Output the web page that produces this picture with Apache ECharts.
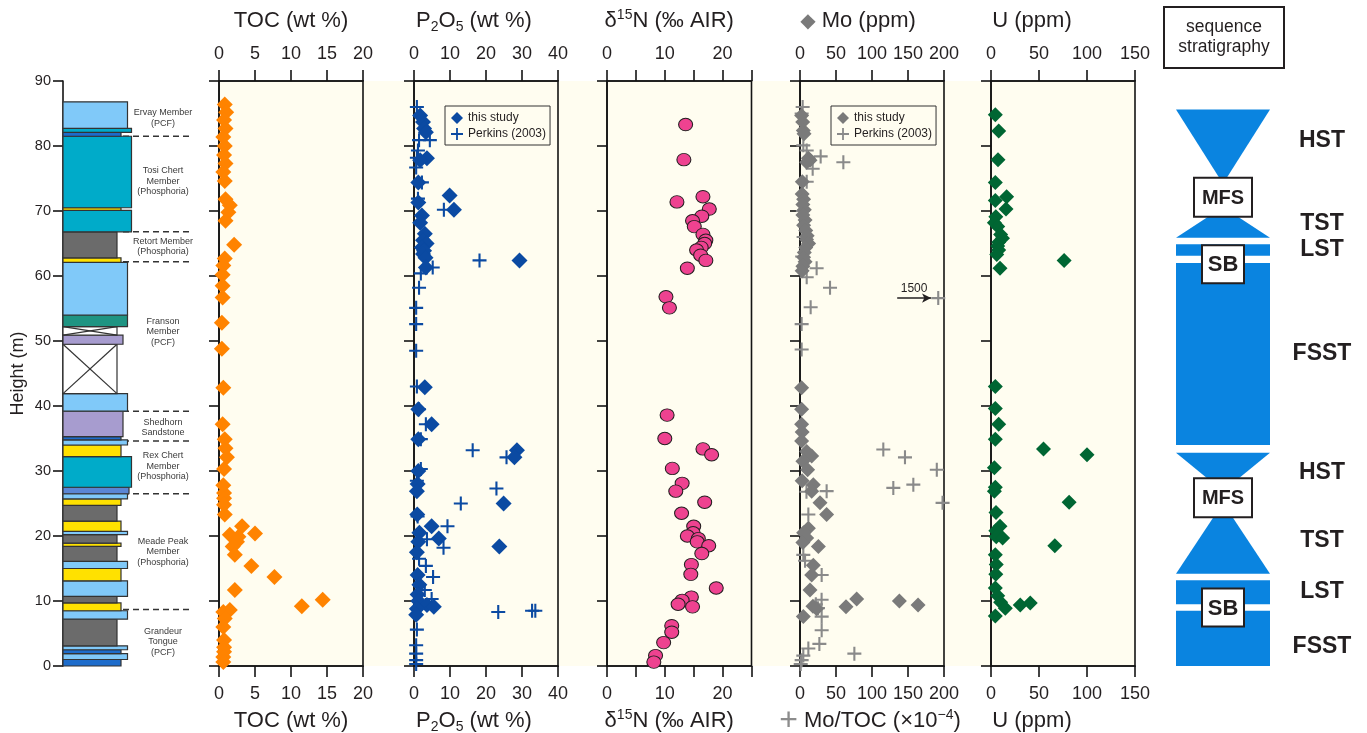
<!DOCTYPE html>
<html><head><meta charset="utf-8">
<script src="https://cdn.jsdelivr.net/npm/echarts@6/dist/echarts.min.js"></script>
<style>html,body{margin:0;padding:0;background:#fff}#c{width:1367px;height:733px}</style>
</head><body><div id="c"></div>
<script>
// ---------------- DATA ----------------
// lithology layers: [bottom (m), top (m), lithology]
const lithLayers = [
  [0.0, 1.0, 'dkblue'], [1.0, 1.9, 'ltblue'], [1.9, 2.5, 'dkblue'], [2.5, 3.1, 'ltblue'],
  [3.1, 7.2, 'mud'], [7.2, 8.5, 'ltblue'], [8.5, 9.7, 'phos'], [9.7, 10.7, 'mud'],
  [10.7, 13.1, 'ltblue'], [13.1, 15.0, 'phos'], [15.0, 16.1, 'ltblue'], [16.1, 18.4, 'mud'],
  [18.4, 18.9, 'phos'], [18.9, 20.2, 'mud'], [20.2, 20.7, 'ltblue'], [20.7, 22.3, 'phos'],
  [22.3, 24.7, 'mud'], [24.7, 25.7, 'phos'], [25.7, 26.5, 'ltblue'], [26.5, 27.5, 'mdblue'],
  [27.5, 32.2, 'chert'], [32.2, 34.0, 'phos'], [34.0, 34.8, 'ltblue'], [34.8, 35.3, 'dkblue'],
  [35.3, 39.2, 'sand'], [39.2, 41.9, 'ltblue'], [41.9, 49.5, 'covered'], [49.5, 50.9, 'sand'],
  [50.9, 52.2, 'covered'], [52.2, 54.0, 'teal'], [54.0, 62.1, 'ltblue'], [62.1, 62.8, 'phos'],
  [62.8, 66.8, 'mud'], [66.8, 70.1, 'chert'], [70.1, 70.5, 'phos'], [70.5, 81.5, 'chert'],
  [81.5, 82.1, 'dkblue'], [82.1, 82.7, 'chert'], [82.7, 86.8, 'ltblue']
];
const memberBoundaries = [8.7, 26.5, 34.6, 39.2, 62.2, 66.8, 81.5];
const members = [
  ['Ervay Member\n(PCF)', 84.3],
  ['Tosi Chert\nMember\n(Phosphoria)', 74.6],
  ['Retort Member\n(Phosphoria)', 64.5],
  ['Franson\nMember\n(PCF)', 51.4],
  ['Shedhorn\nSandstone', 36.7],
  ['Rex Chert\nMember\n(Phosphoria)', 30.7],
  ['Meade Peak\nMember\n(Phosphoria)', 17.6],
  ['Grandeur\nTongue\n(PCF)', 3.7]
];

// [value, height]
const tocData = [
  [0.8,86.4],[1.0,85.2],[0.7,84.0],[0.9,82.7],[0.6,81.4],[0.8,80.0],[0.7,78.6],[0.9,77.3],[0.6,76.0],
  [0.8,74.6],[0.9,71.8],[1.5,70.9],[1.3,69.8],[0.9,68.5],[2.1,64.8],[0.8,62.7],[0.6,61.6],[0.5,60.2],
  [0.5,58.5],[0.5,56.7],[0.4,52.8],[0.4,48.8],
  [0.6,42.8],[0.5,37.2],[0.8,34.9],[0.9,33.5],[1.1,32.1],[0.7,30.3],[0.6,27.8],[0.7,26.6],[0.7,25.8],
  [0.7,24.8],[0.8,23.3],[3.2,21.5],[5.0,20.4],[1.5,20.2],[2.7,19.9],[2.5,19.1],[1.9,18.4],[2.2,17.1],
  [4.5,15.4],[7.7,13.7],[2.2,11.7],[11.5,9.2],[14.4,10.2],[1.5,8.6],[0.6,8.3],[0.8,7.3],[0.6,6.0],
  [0.7,4.0],[0.7,2.9],[0.7,2.2],[0.6,1.4],[0.6,0.6]
];
const p2o5Study = [
  [1.7,84.7],[2.5,83.7],[2.8,82.7],[3.3,82.1],[3.6,78.1],[1.7,77.8],[1.2,74.4],[9.9,72.4],[11.1,70.2],
  [1.2,71.3],[2.2,69.3],[1.7,68.2],[3.0,66.5],[2.5,65.5],[3.5,65.0],[2.2,64.4],[2.8,63.9],[2.5,63.4],
  [3.2,62.8],[3.3,61.3],[29.3,62.4],
  [3.0,42.9],[1.2,39.5],[4.9,37.2],[1.2,34.9],[28.6,33.2],[27.9,32.1],[1.2,30.0],[1.0,28.0],[0.8,26.9],
  [24.9,25.0],[0.9,23.3],[4.9,21.5],[1.5,20.5],[6.9,19.6],[1.2,19.1],[23.7,18.4],[0.8,17.5],[1.0,14.0],
  [1.5,12.5],[1.0,11.0],[1.2,10.0],[3.6,9.4],[5.5,9.1],[0.8,8.8],[0.6,7.9]
];
const p2o5Perkins = [
  [0.8,86.0],[4.4,80.9],[1.4,80.9],[1.1,79.3],[0.8,78.2],[0.6,76.7],[2.2,74.4],[1.1,71.9],[8.3,70.2],
  [18.2,62.4],[5.2,61.3],[1.9,60.4],[1.4,58.2],[0.6,55.1],[0.6,52.6],[0.6,48.5],
  [0.8,43.0],[1.4,39.5],[3.3,37.2],[1.9,34.9],[16.3,33.2],[25.7,32.1],[1.9,30.3],[0.8,28.5],[22.9,27.3],
  [13.0,25.0],[1.0,23.0],[9.3,21.5],[3.6,19.5],[8.2,18.2],[1.4,16.5],[3.3,15.4],[5.3,13.7],[3.0,11.7],
  [4.9,10.3],[23.4,8.3],[32.8,8.5],[33.7,8.5],[0.8,5.6],[0.6,3.2],[0.6,1.9],[0.6,0.9],[0.6,0.3]
];
const d15NData = [
  [13.6,83.3],[13.3,77.9],[12.1,71.4],[16.6,72.2],[17.7,70.3],[16.4,69.2],[14.8,68.5],[15.1,67.6],
  [16.6,66.4],[17.1,65.5],[16.9,65.0],[16.3,64.4],[15.5,64.0],[16.2,63.2],[17.1,62.4],[13.9,61.2],
  [10.2,56.8],[10.8,55.1],
  [10.4,38.6],[10.0,35.0],[16.6,33.4],[18.1,32.5],[11.3,30.4],[13.0,28.1],[11.9,26.9],[16.9,25.2],
  [12.9,23.5],[15.0,21.5],[14.9,20.5],[13.9,20.0],[15.8,19.6],[15.6,19.1],[17.6,18.5],[16.4,17.3],
  [14.6,15.6],[14.5,14.1],[18.9,12.0],[14.6,10.6],[13.0,10.1],[12.3,9.5],[14.8,9.1],[11.2,6.2],
  [11.2,5.2],[9.8,3.6],[8.4,1.6],[8.1,0.6]
];
const moStudy = [
  [2.3,84.7],[3.7,83.7],[4.6,82.4],[5.6,81.9],[11.6,78.1],[13.9,77.8],[9.3,77.5],[3.2,74.5],
  [3,72.6],[5,71.8],[4,71.0],[6,70.2],[4,69.4],[7,68.6],[5,67.8],[8,67.0],[10,66.2],[9,65.6],
  [12,65.0],[8,64.4],[6,63.6],[5,62.9],[7,62.2],[4,61.5],[3,60.8],
  [2.3,42.8],[2.3,39.5],[2.3,37.2],[3,36.0],[2.3,34.6],[9.3,33.0],[16.2,32.3],[4,31.5],[10.6,30.2],
  [3,28.5],[18.5,27.9],[16.2,26.9],[27.8,25.1],[37,23.3],[11.6,21.2],[5,20.5],[9.3,19.7],[4,19.0],
  [25.5,18.4],[18.5,15.5],[16.2,14.0],[13.9,11.7],[78.7,10.3],[63.9,9.1],[138,10.0],[164,9.4],
  [23.1,8.8],[18,9.2],[4.6,7.6]
];
const moTocPerkins = [
  [3.7,86.0],[2.3,85.0],[4.6,80.1],[9.3,79.3],[28.7,78.4],[60.2,77.5],[17.6,76.5],[9.3,74.5],
  [4,70.0],[5,66.0],[3,63.0],[23.1,61.2],[9.3,59.8],[41.7,58.2],[1500,56.6],[14.8,55.2],[2.3,52.6],[2.3,48.7],
  [115.7,33.3],[145.8,32.1],[190,30.2],[157.4,27.9],[129.6,27.4],[37,26.9],[9,26.8],[198,25.1],
  [11.6,23.3],[4.6,17.1],[7,16.2],[30.1,14.0],[30,10.2],[22,9.5],[25,8.9],[30.1,7.6],[30.1,5.5],
  [26.9,3.4],[11.6,2.7],[75.5,1.9],[4.6,1.6],[2.3,0.9],[1,0.3]
];
const uData = [
  [4.5,84.8],[8.0,82.3],[7.3,77.9],[4.5,74.4],[16.3,72.2],[4.5,71.6],[15.6,70.3],[5,69.1],[3.5,68.2],
  [7,67.6],[10,66.4],[12,65.8],[8,65.2],[7,64.6],[8,64.0],[6,63.3],[76.2,62.4],[9.4,61.2],
  [4.5,43.0],[4.5,39.6],[8.0,37.2],[4.5,34.9],[54.7,33.4],[100,32.5],[3.5,30.5],[4.5,27.5],[3.5,26.9],
  [81.4,25.2],[5.2,23.6],[9.4,21.5],[5,20.8],[5.5,19.9],[12.1,19.7],[66.5,18.5],[4.5,17.1],[5.5,15.6],
  [5,14.1],[4.5,12.0],[7,10.8],[10,9.8],[14.9,8.9],[30.5,9.4],[40.9,9.7],[4.5,7.7]
];
// sequence stratigraphy: [tract, bottom (m), top (m), label height (m)]
const seqTracts = [
  ['FSST', 0.0, 8.5, 2.9], ['LST', 9.5, 13.2, 11.5], ['TST', 14.2, 25.1, 19.3], ['HST', 26.9, 32.8, 29.7],
  ['FSST', 34.0, 62.0, 48.1], ['LST', 63.1, 64.9, 64.0], ['TST', 65.9, 70.6, 68.0], ['HST', 74.2, 85.6, 80.8]
];
const seqSurfaces = [['SB', 9.0], ['MFS', 25.9], ['SB', 61.8], ['MFS', 72.1]];
const moOutlierLabel = '1500';

// ---------------- STYLE ----------------
const FONT = '"Liberation Sans", Arial, "DejaVu Sans", sans-serif';
const TXT = '#231f20';
const AXC = '#141414';
const TOP = 81, H = 585;
const lithStyle = {
  mud: {w: 54, color: '#6b6b6b'}, phos: {w: 58, color: '#ffe100'}, dkblue: {w: 58, color: '#1d6ccb'},
  sand: {w: 60, color: '#a79ccf'}, ltblue: {w: 64.5, color: '#80c9f9'}, teal: {w: 64.5, color: '#1f9482'},
  mdblue: {w: 66, color: '#5b86d4'}, chert: {w: 68.5, color: '#00abc9'}, covered: {w: 54, color: '#ffffff'}
};
const tractShape = {FSST: 'bar', LST: 'bar', TST: 'narrowTop', HST: 'narrowBottom'};
const surfaceBox = {MFS: {w: 58, h: 39, fs: 20}, SB: {w: 42, h: 38, fs: 22}};
const SEQ_BLUE = '#0a84e0';
const PLUS = 'path://M4.25,0h1.5v4.25h4.25v1.5h-4.25v4.25h-1.5v-4.25h-4.25v-1.5h4.25z';

const rich = {
  t: {fontSize: 22, lineHeight: 26, fontFamily: FONT, color: TXT},
  s: {fontSize: 14, lineHeight: 14, verticalAlign: 'bottom', fontFamily: FONT, color: TXT},
  p: {fontSize: 14, lineHeight: 14, verticalAlign: 'top', fontFamily: FONT, color: TXT},
  d: {fontSize: 20, lineHeight: 26, fontFamily: FONT, color: '#7a7a7a'},
  c: {fontSize: 32, lineHeight: 26, fontFamily: FONT, color: '#8c8c8c'}
};
const panels = [
  {left: 219, width: 144, max: 20, interval: 5, top: '{t|TOC (wt %)}', bottom: '{t|TOC (wt %)}', shiftT: 0, shiftB: 0},
  {left: 414, width: 144, max: 40, interval: 10, top: '{t|P}{s|2}{t|O}{s|5}{t| (wt %)}', bottom: '{t|P}{s|2}{t|O}{s|5}{t| (wt %)}', shiftT: -12, shiftB: -12},
  {left: 607, width: 144.5, max: 25, interval: 5, top: '{t|δ}{p|15}{t|N (‰ AIR)}', bottom: '{t|δ}{p|15}{t|N (‰ AIR)}', shiftT: -10, shiftB: -10, fmt: v => (v % 10 === 0 ? String(v) : '')},
  {left: 800, width: 144, max: 200, interval: 50, top: '{d|◆}{t| Mo (ppm)}', bottom: '{c|+}{t| Mo/TOC (×10}{p|−4}{t|)}', shiftT: -14, shiftB: -2},
  {left: 991, width: 144, max: 150, interval: 50, top: '{t|U (ppm)}', bottom: '{t|U (ppm)}', shiftT: -31, shiftB: -31}
];

function pad(shift) { return shift < 0 ? [0, -2 * shift, 0, 0] : [0, 0, 0, 2 * shift]; }

const grids = [], xAxes = [], yAxes = [], series = [];
const lineS = {color: AXC, width: 1.6};

// lithology grid
grids.push({left: 63, top: TOP, width: 130, height: H, show: false, outerBoundsMode: 'none'});
xAxes.push({gridIndex: 0, type: 'value', min: 0, max: 130, show: false});
yAxes.push({
  gridIndex: 0, type: 'value', min: 0, max: 90, interval: 10,
  axisLine: {show: true, onZero: false, lineStyle: lineS},
  axisTick: {show: true, inside: false, length: 10, lineStyle: lineS},
  axisLabel: {show: true, fontSize: 14.5, color: TXT, fontFamily: FONT, margin: 12},
  splitLine: {show: false},
  name: 'Height (m)', nameLocation: 'middle', nameGap: 36, nameMoveOverlap: false,
  nameTextStyle: {fontSize: 18, color: TXT, fontFamily: FONT}
});

panels.forEach(p => {
  const gi = grids.length;
  grids.push({left: p.left, top: TOP, width: p.width, height: H, show: true, borderColor: AXC, borderWidth: 1.6, backgroundColor: 'transparent', outerBoundsMode: 'none'});
  const common = {
    gridIndex: gi, type: 'value', min: 0, max: p.max, interval: p.interval,
    axisLine: {show: true, onZero: false, lineStyle: lineS},
    axisTick: {show: true, inside: false, length: 11, lineStyle: lineS},
    splitLine: {show: false}, nameLocation: 'middle', nameMoveOverlap: false
  };
  const lbl = m => ({show: true, fontSize: 18, color: TXT, fontFamily: FONT, margin: m, hideOverlap: false, showMinLabel: true, showMaxLabel: true, formatter: p.fmt});
  p.xTop = xAxes.length;
  xAxes.push(Object.assign({}, common, {position: 'top', axisLabel: lbl(18), name: p.top, nameGap: 47,
    nameTextStyle: {fontSize: 22, fontFamily: FONT, color: TXT, rich: rich, padding: pad(p.shiftT)}}));
  p.xBot = xAxes.length;
  xAxes.push(Object.assign({}, common, {position: 'bottom', axisLabel: lbl(19), name: p.bottom, nameGap: 42,
    nameTextStyle: {fontSize: 22, fontFamily: FONT, color: TXT, rich: rich, padding: pad(p.shiftB)}}));
  p.yi = yAxes.length;
  yAxes.push({gridIndex: gi, type: 'value', min: 0, max: 90, interval: 10,
    axisLine: {show: true, onZero: false, lineStyle: lineS},
    axisTick: {show: true, inside: false, length: 10, lineStyle: lineS},
    axisLabel: {show: false}, splitLine: {show: false}});
});

// sequence grid
const seqGi = grids.length;
grids.push({left: 1176, top: TOP, width: 94, height: H, show: false, outerBoundsMode: 'none'});
const seqXi = xAxes.length; xAxes.push({gridIndex: seqGi, type: 'value', min: 0, max: 94, show: false});
const seqYi = yAxes.length; yAxes.push({gridIndex: seqGi, type: 'value', min: 0, max: 90, show: false});

// ---- lithology series ----
series.push({
  type: 'custom', xAxisIndex: 0, yAxisIndex: 0, z: 1, silent: true,
  data: memberBoundaries.map(h => [0, h]),
  encode: {x: 0, y: 1},
  renderItem: (params, api) => {
    const a = api.coord([60, api.value(1)]), b = api.coord([130, api.value(1)]);
    return {type: 'line', shape: {x1: a[0], y1: a[1], x2: b[0], y2: b[1]},
      style: {stroke: '#333', lineWidth: 1.5, lineDash: [6, 4]}};
  }
});
series.push({
  type: 'custom', xAxisIndex: 0, yAxisIndex: 0, z: 2, silent: true,
  data: lithLayers.map(l => [0, l[0], l[1]]),
  encode: {x: 0, y: [1, 2]},
  renderItem: (params, api) => {
    const L = lithLayers[params.dataIndex];
    const st = lithStyle[L[2]];
    const p0 = api.coord([0, L[1]]), p1 = api.coord([st.w, L[0]]);
    const r = {x: p0[0], y: p0[1], width: p1[0] - p0[0], height: p1[1] - p0[1]};
    const ch = [{type: 'rect', shape: r, style: {fill: st.color, stroke: '#333', lineWidth: 1.2}}];
    if (L[2] === 'covered') {
      ch.push({type: 'line', shape: {x1: r.x, y1: r.y, x2: r.x + r.width, y2: r.y + r.height}, style: {stroke: '#333', lineWidth: 1.2}});
      ch.push({type: 'line', shape: {x1: r.x + r.width, y1: r.y, x2: r.x, y2: r.y + r.height}, style: {stroke: '#333', lineWidth: 1.2}});
    }
    return {type: 'group', children: ch};
  }
});
series.push({
  type: 'custom', xAxisIndex: 0, yAxisIndex: 0, z: 3, silent: true,
  data: members.map(m => [0, m[1]]),
  encode: {x: 0, y: 1},
  renderItem: (params, api) => {
    const c = api.coord([100, api.value(1)]);
    return {type: 'text', style: {text: members[params.dataIndex][0], x: c[0], y: c[1],
      align: 'center', verticalAlign: 'middle', fontSize: 9, lineHeight: 10.5, fontFamily: FONT, fill: '#3a3a3a'}};
  }
});

// ---- scatter panels ----
function scat(name, p, data, sym, size, style) {
  return {type: 'scatter', name: name, xAxisIndex: p.xBot, yAxisIndex: p.yi, data: data, symbol: sym,
    symbolSize: size, itemStyle: Object.assign({opacity: 1}, style), z: 4, silent: true, clip: false};
}
const [pT, pP, pN, pM, pU] = panels;
series.push(scat('TOC', pT, tocData, 'diamond', 16, {color: '#ff8300'}));
series.push(scat('Perkins (2003)#P', pP, p2o5Perkins, PLUS, 14, {color: '#0b4aa2'}));
series.push(scat('this study#P', pP, p2o5Study, 'diamond', 16, {color: '#0b4aa2'}));
series.push(scat('d15N', pN, d15NData, 'circle', [14, 12.5], {color: '#ee4290', borderColor: '#231f20', borderWidth: 1}));
const moMax = pM.max;
const moPlus = scat('Perkins (2003)#M', pM, moTocPerkins.map(d => [d[0] > moMax ? moMax * 0.96 : d[0], d[1]]), PLUS, 14, {color: '#8a8a8a'});
const outlier = moTocPerkins.find(d => d[0] > moMax);
moPlus.markLine = {
  silent: true, symbol: ['none', 'arrow'], symbolSize: [7, 9], animation: false,
  lineStyle: {color: TXT, width: 1.5, type: 'solid'},
  label: {show: true, position: 'insideMiddleTop', formatter: moOutlierLabel, fontSize: 12, color: TXT, fontFamily: FONT, distance: 3},
  data: [[{coord: [moMax * 0.675, outlier[1]]}, {coord: [moMax * 0.91, outlier[1]]}]]
};
series.push(moPlus);
series.push(scat('this study#M', pM, moStudy, 'diamond', 15, {color: '#7a7a7a'}));
series.push(scat('U', pU, uData, 'diamond', 15, {color: '#006633'}));

// ---- sequence stratigraphy ----
series.push({
  type: 'custom', xAxisIndex: seqXi, yAxisIndex: seqYi, z: 2, silent: true,
  data: seqTracts.map(t => [0, t[1], t[2]]),
  encode: {x: 0, y: [1, 2]},
  renderItem: (params, api) => {
    const T = seqTracts[params.dataIndex];
    const kind = tractShape[T[0]];
    const yb = api.coord([0, T[1]])[1], yt = api.coord([0, T[2]])[1];
    const xl = api.coord([0, 0])[0], xr = api.coord([94, 0])[0], xc = (xl + xr) / 2;
    let shp;
    if (kind === 'bar') shp = {type: 'rect', shape: {x: xl, y: yt, width: xr - xl, height: yb - yt}};
    else if (kind === 'narrowTop') shp = {type: 'polygon', shape: {points: [[xl, yb], [xr, yb], [xc, yt]]}};
    else shp = {type: 'polygon', shape: {points: [[xl, yt], [xr, yt], [xc, yb]]}};
    shp.style = {fill: SEQ_BLUE};
    const ly = api.coord([0, T[3]])[1];
    return {type: 'group', children: [shp, {type: 'text', style: {text: T[0], x: xr + 52, y: ly, align: 'center', verticalAlign: 'middle',
      fontSize: 23, fontWeight: 'bold', fontFamily: FONT, fill: TXT}}]};
  }
});
series.push({
  type: 'custom', xAxisIndex: seqXi, yAxisIndex: seqYi, z: 3, silent: true,
  data: seqSurfaces.map(s => [0, s[1]]),
  encode: {x: 0, y: 1},
  renderItem: (params, api) => {
    const S = seqSurfaces[params.dataIndex];
    const bx = surfaceBox[S[0]];
    const y = api.coord([0, S[1]])[1];
    const xc = (api.coord([0, 0])[0] + api.coord([94, 0])[0]) / 2;
    return {type: 'group', children: [
      {type: 'rect', shape: {x: xc - bx.w / 2, y: y - bx.h / 2, width: bx.w, height: bx.h}, style: {fill: '#fff', stroke: TXT, lineWidth: 2}},
      {type: 'text', style: {text: S[0], x: xc, y: y + 1, align: 'center', verticalAlign: 'middle', fontSize: bx.fs, fontWeight: 'bold', fontFamily: FONT, fill: TXT}}
    ]};
  }
});

const legendCommon = {
  orient: 'vertical', itemWidth: 12, itemHeight: 12, itemGap: 4, padding: [6, 4, 5, 6],
  borderColor: '#333', borderWidth: 1, backgroundColor: 'transparent', selectedMode: false,
  textStyle: {fontSize: 12, color: TXT, fontFamily: FONT},
  formatter: n => n.split('#')[0]
};

const option = {
  animation: false,
  backgroundColor: '#fff',
  grid: grids, xAxis: xAxes, yAxis: yAxes, series: series,
  legend: [
    Object.assign({}, legendCommon, {left: 445, top: 106, data: [{name: 'this study#P', icon: 'diamond'}, {name: 'Perkins (2003)#P', icon: PLUS}]}),
    Object.assign({}, legendCommon, {left: 831, top: 106, data: [{name: 'this study#M', icon: 'diamond'}, {name: 'Perkins (2003)#M', icon: PLUS}]})
  ],
  graphic: [
    {type: 'rect', z: -10, silent: true, shape: {x: pT.left, y: TOP, width: pU.left + pU.width - pT.left, height: H}, style: {fill: '#fffdf0'}},
    {type: 'rect', silent: true, shape: {x: 1164, y: 7, width: 120, height: 61}, style: {fill: '#fff', stroke: TXT, lineWidth: 2}},
    {type: 'text', silent: true, style: {text: 'sequence\nstratigraphy', x: 1224, y: 37.5, align: 'center', verticalAlign: 'middle',
      fontSize: 17.5, lineHeight: 20, fontFamily: FONT, fill: TXT}}
  ]
};
const chart = echarts.init(document.getElementById('c'), null, {renderer: 'canvas'});
chart.setOption(option);
</script></body></html>
